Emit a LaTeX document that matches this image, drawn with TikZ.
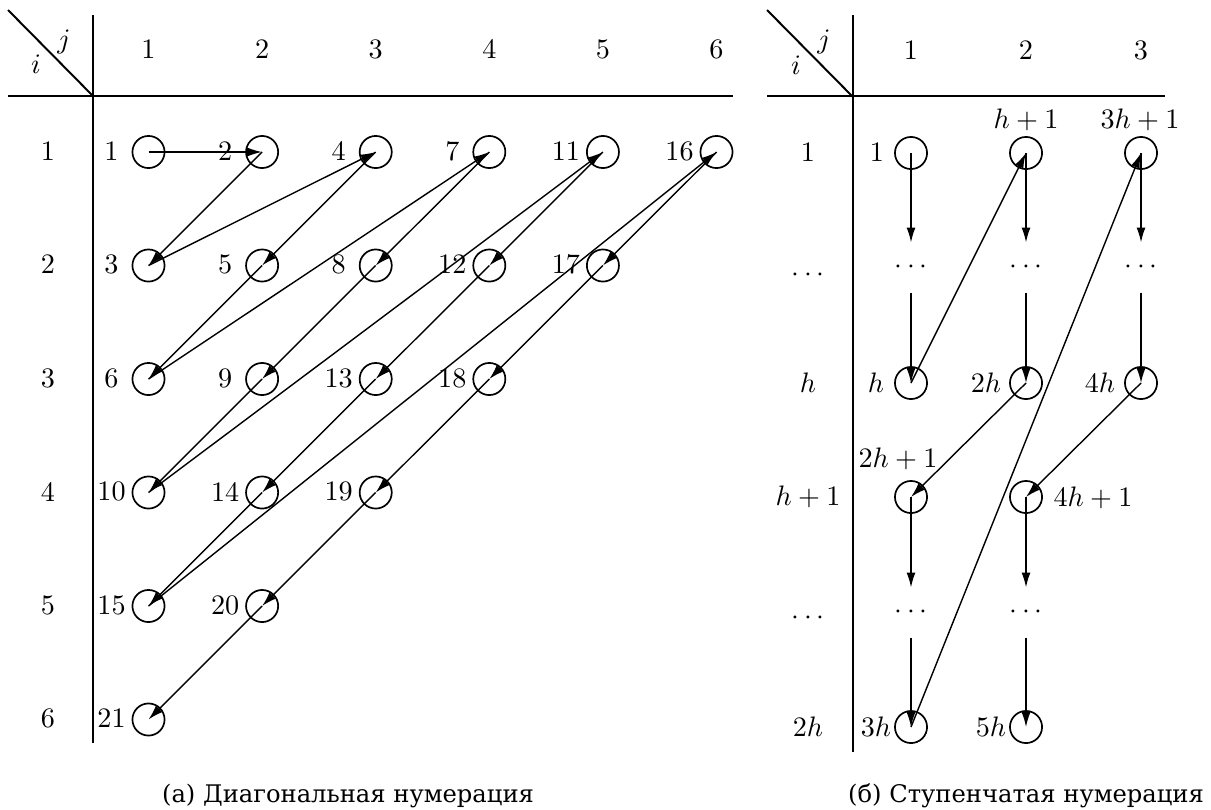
\documentclass[tikz,border=0pt]{standalone}
\usepackage{fontspec}
\newfontfamily\capfont{DejaVu Serif}
\usetikzlibrary{arrows.meta}
\begin{document}
\begin{tikzpicture}[x=0.355pt,y=-0.355pt,
  circ/.style={circle,draw,line width=0.6pt,minimum size=11.4pt,inner sep=0pt},
  lab/.style={inner sep=0pt,font=\fontsize{10}{12}\selectfont},
  arr/.style={line width=0.5pt,-{Latex[length=5.3pt,width=3.2pt]}},
  tbl/.style={line width=0.7pt},
  dotsn/.style={inner sep=0pt,minimum height=17.4pt,minimum width=10pt},
  captext/.style={inner sep=0pt,anchor=base,font=\capfont\fontsize{8.6}{12}\selectfont}]
\useasboundingbox (0,0) rectangle (1211,809);
% ---------- left table ----------
\draw[tbl] (8,10) -- (93,96);
\draw[tbl] (93,15) -- (93,743);
\draw[tbl] (8,96) -- (733,96);
\node[lab] (lj) at (64,42) {$j$};
\node[lab] (li) at (36,64) {$i$};
\foreach \cj in {1,...,6} {
  \node[lab] (lh\cj) at ({148.5+113.6*(\cj-1)},49) {\cj};
  \node[lab] (lr\cj) at (48,{151+113.5*(\cj-1)}) {\cj};
}
\foreach \ri in {1,...,6} {
  \foreach \cj in {1,...,6} {
    \pgfmathtruncatemacro{\dd}{\ri+\cj-1}
    \ifnum\dd<7
      \pgfmathtruncatemacro{\nn}{\dd*(\dd-1)/2+\ri}
      \node[circ] (n\nn) at ({148.5+113.6*(\cj-1)},{152+113.5*(\ri-1)}) {};
      \node[lab] (t\nn) at ({148.5+113.6*(\cj-1)-37},{151+113.5*(\ri-1)}) {\nn};
    \fi
  }
}
\foreach \nn [evaluate=\nn as \mm using int(\nn+1)] in {1,...,20}
  \draw[arr] (n\nn.center) -- (n\mm.center);
\node[captext] (capa) at (348,802) {(а) Диагональная нумерация};
% ---------- right table ----------
\draw[tbl] (767,10) -- (853,97);
\draw[tbl] (853,15) -- (853,752);
\draw[tbl] (767,96) -- (1165,96);
\node[lab] (rj) at (824,42) {$j$};
\node[lab] (ri) at (796,65) {$i$};
\node[lab] (rc1) at (911,50) {1};
\node[lab] (rc2) at (1026,50) {2};
\node[lab] (rc3) at (1141,50) {3};
\node[lab] (rw1) at (808,152) {1};
\node[lab] (rw2) at (808,275) {$\cdots$};
\node[lab] (rw3) at (808,383) {$h$};
\node[lab] (rw4) at (808,497) {$h+1$};
\node[lab] (rw5) at (808,618) {$\cdots$};
\node[lab] (rw6) at (808,727) {$2h$};
% circles
\node[circ] (r11) at (911,153) {};
\node[circ] (r12) at (1026,153) {};
\node[circ] (r13) at (1141,153) {};
\node[circ] (rh1) at (911,383) {};
\node[circ] (rh2) at (1026,383) {};
\node[circ] (rh3) at (1141,383) {};
\node[circ] (rk1) at (911,497) {};
\node[circ] (rk2) at (1026,497) {};
\node[circ] (rz1) at (911,727) {};
\node[circ] (rz2) at (1026,727) {};
% dots
\node[dotsn] (q11) at (911,267.5) {$\cdots$};
\node[dotsn] (q12) at (1026,267.5) {$\cdots$};
\node[dotsn] (q13) at (1141,267.5) {$\cdots$};
\node[dotsn] (q21) at (911,612.5) {$\cdots$};
\node[dotsn] (q22) at (1026,612.5) {$\cdots$};
% labels
\node[lab] (s1) at (877,152) {1};
\node[lab] (s2) at (1026,120) {$h+1$};
\node[lab] (s3) at (1140,120) {$3h+1$};
\node[lab] (s4) at (876,383) {$h$};
\node[lab] (s5) at (986,383) {$2h$};
\node[lab] (s6) at (1100,383) {$4h$};
\node[lab] (s7) at (898,458.5) {$2h+1$};
\node[lab] (s8) at (1093,498) {$4h+1$};
\node[lab] (s9) at (876,727) {$3h$};
\node[lab] (s10) at (991,727) {$5h$};
% arrows
\draw[arr] (r11.center) -- (q11);
\draw[arr] (q11) -- (rh1.center);
\draw[arr] (r12.center) -- (q12);
\draw[arr] (q12) -- (rh2.center);
\draw[arr] (r13.center) -- (q13);
\draw[arr] (q13) -- (rh3.center);
\draw[arr] (rh1.center) -- (r12.center);
\draw[arr] (rh2.center) -- (rk1.center);
\draw[arr] (rh3.center) -- (rk2.center);
\draw[arr] (rk1.center) -- (q21);
\draw[arr] (q21) -- (rz1.center);
\draw[arr] (rk2.center) -- (q22);
\draw[arr] (q22) -- (rz2.center);
\draw[arr] (rz1.center) -- (r13.center);
\node[captext] (capb) at (1026,802) {(б) Ступенчатая нумерация};
\end{tikzpicture}
\end{document}
